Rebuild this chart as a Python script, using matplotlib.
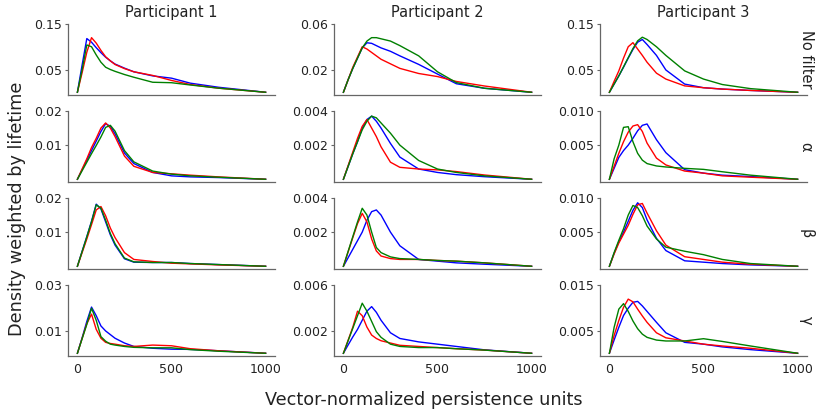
# small multiples: density weighted by lifetime, per participant and filter band
import matplotlib
matplotlib.use('Agg')
import matplotlib.pyplot as plt

x = [0, 25, 50, 75, 100, 125, 150, 175, 200, 250, 300, 400, 500, 600, 750, 1000]

participants = ['Participant 1', 'Participant 2', 'Participant 3']
filters = ['No filter', 'α', 'β', 'γ']

# y ticks shown on each panel (top tick is also the top of the axis)
yticks = [
    [[0.05, 0.15], [0.02, 0.06], [0.05, 0.15]],
    [[0.01, 0.02], [0.002, 0.004], [0.005, 0.010]],
    [[0.01, 0.02], [0.002, 0.004], [0.005, 0.010]],
    [[0.01, 0.03], [0.002, 0.006], [0.005, 0.015]],
]
yticklabels = [
    [['0.05', '0.15'], ['0.02', '0.06'], ['0.05', '0.15']],
    [['0.01', '0.02'], ['0.002', '0.004'], ['0.005', '0.010']],
    [['0.01', '0.02'], ['0.002', '0.004'], ['0.005', '0.010']],
    [['0.01', '0.03'], ['0.002', '0.006'], ['0.005', '0.015']],
]

# --- No filter ---
p1_none_red = [0, 0.043, 0.088, 0.120, 0.108, 0.092, 0.078, 0.069, 0.061, 0.052, 0.045, 0.037, 0.026, 0.017, 0.009, 0]
p1_none_blue = [0, 0.060, 0.118, 0.110, 0.098, 0.087, 0.077, 0.069, 0.062, 0.053, 0.045, 0.036, 0.031, 0.020, 0.011, 0]
p1_none_green = [0, 0.050, 0.104, 0.100, 0.082, 0.066, 0.055, 0.050, 0.046, 0.039, 0.033, 0.022, 0.021, 0.016, 0.009, 0]

p2_none_red = [0, 0.011, 0.022, 0.031, 0.040, 0.038, 0.035, 0.032, 0.029, 0.025, 0.021, 0.0165, 0.0138, 0.0095, 0.0055, 0]
p2_none_blue = [0, 0.011, 0.021, 0.030, 0.039, 0.0435, 0.043, 0.041, 0.039, 0.036, 0.032, 0.0245, 0.016, 0.0075, 0.0035, 0]
p2_none_green = [0, 0.011, 0.021, 0.030, 0.039, 0.045, 0.048, 0.048, 0.047, 0.045, 0.041, 0.032, 0.018, 0.0085, 0.0035, 0]

p3_none_red = [0, 0.024, 0.047, 0.075, 0.100, 0.109, 0.095, 0.081, 0.066, 0.042, 0.029, 0.014, 0.010, 0.007, 0.004, 0]
p3_none_blue = [0, 0.018, 0.036, 0.055, 0.075, 0.094, 0.110, 0.116, 0.105, 0.081, 0.049, 0.018, 0.010, 0.007, 0.004, 0]
p3_none_green = [0, 0.018, 0.036, 0.056, 0.076, 0.096, 0.113, 0.121, 0.116, 0.100, 0.081, 0.047, 0.029, 0.017, 0.008, 0]

# --- alpha ---
p1_alpha_red = [0, 0.003, 0.006, 0.0093, 0.0120, 0.0150, 0.0165, 0.0150, 0.0125, 0.0068, 0.0038, 0.0020, 0.0016, 0.0012, 0.0007, 0]
p1_alpha_blue = [0, 0.0028, 0.0056, 0.0084, 0.0112, 0.0140, 0.0163, 0.0155, 0.0133, 0.0077, 0.0046, 0.0020, 0.0010, 0.0007, 0.0005, 0]
p1_alpha_green = [0, 0.0025, 0.0050, 0.0075, 0.0099, 0.0124, 0.0152, 0.0158, 0.0141, 0.0084, 0.0051, 0.0024, 0.0015, 0.0010, 0.0006, 0]

p2_alpha_red = [0, 0.0008, 0.0016, 0.0024, 0.0031, 0.0035, 0.0030, 0.0025, 0.0019, 0.0010, 0.0007, 0.0006, 0.00055, 0.00045, 0.00025, 0]
p2_alpha_blue = [0, 0.00075, 0.0015, 0.0022, 0.0030, 0.0035, 0.0037, 0.0034, 0.0030, 0.0021, 0.0013, 0.0006, 0.0004, 0.00027, 0.00015, 0]
p2_alpha_green = [0, 0.00075, 0.0015, 0.0022, 0.0029, 0.0034, 0.0037, 0.0036, 0.0033, 0.0027, 0.0020, 0.0011, 0.0006, 0.0004, 0.0002, 0]

p3_alpha_red = [0, 0.0019, 0.0038, 0.0055, 0.0069, 0.0078, 0.0080, 0.0070, 0.0053, 0.0031, 0.0021, 0.0012, 0.0009, 0.0005, 0.0003, 0]
p3_alpha_blue = [0, 0.0016, 0.0032, 0.0042, 0.0050, 0.0060, 0.0071, 0.0079, 0.0081, 0.0058, 0.0039, 0.0014, 0.0009, 0.0006, 0.0004, 0]
p3_alpha_green = [0, 0.0030, 0.0050, 0.0076, 0.0077, 0.0055, 0.0038, 0.0028, 0.0023, 0.00195, 0.0018, 0.0016, 0.00145, 0.0011, 0.0006, 0]

# --- beta ---
p1_beta_red = [0, 0.0040, 0.0080, 0.0122, 0.0165, 0.0175, 0.0148, 0.0112, 0.0084, 0.0040, 0.0020, 0.0014, 0.0009, 0.0007, 0.0004, 0]
p1_beta_blue = [0, 0.0044, 0.0087, 0.0132, 0.0182, 0.0168, 0.0130, 0.0092, 0.0062, 0.0022, 0.0012, 0.0011, 0.0011, 0.0008, 0.0005, 0]
p1_beta_green = [0, 0.0043, 0.0086, 0.0130, 0.0180, 0.0170, 0.0135, 0.0096, 0.0066, 0.0024, 0.0013, 0.0011, 0.0011, 0.0008, 0.0005, 0]

p2_beta_red = [0, 0.00084, 0.00168, 0.0025, 0.0031, 0.0026, 0.0016, 0.0009, 0.0006, 0.00045, 0.0004, 0.0004, 0.00034, 0.0003, 0.0002, 0]
p2_beta_blue = [0, 0.0005, 0.0010, 0.0015, 0.0020, 0.0027, 0.0032, 0.0033, 0.0030, 0.0020, 0.0012, 0.0004, 0.0003, 0.0002, 0.00012, 0]
p2_beta_green = [0, 0.00087, 0.00174, 0.0026, 0.0034, 0.0030, 0.0020, 0.0011, 0.0008, 0.00055, 0.00045, 0.0004, 0.00034, 0.0003, 0.0002, 0]

p3_beta_red = [0, 0.0018, 0.0034, 0.0047, 0.0060, 0.0076, 0.0090, 0.0092, 0.0078, 0.0052, 0.0031, 0.0014, 0.0010, 0.0006, 0.0003, 0]
p3_beta_blue = [0, 0.0019, 0.0036, 0.0050, 0.0066, 0.0082, 0.0093, 0.0086, 0.0068, 0.0041, 0.0023, 0.0008, 0.0006, 0.0004, 0.0002, 0]
p3_beta_green = [0, 0.0020, 0.0038, 0.0055, 0.0075, 0.0089, 0.0086, 0.0074, 0.0059, 0.0040, 0.0028, 0.0022, 0.0017, 0.0010, 0.0004, 0]

# --- gamma ---
p1_gamma_red = [0, 0.0065, 0.0130, 0.0172, 0.0105, 0.0066, 0.0048, 0.0043, 0.0040, 0.0033, 0.0030, 0.0036, 0.0033, 0.0020, 0.0011, 0]
p1_gamma_blue = [0, 0.0068, 0.0140, 0.0203, 0.0165, 0.0120, 0.0098, 0.0082, 0.0066, 0.0045, 0.0030, 0.0022, 0.0018, 0.0017, 0.0011, 0]
p1_gamma_green = [0, 0.0064, 0.0127, 0.0198, 0.0145, 0.0073, 0.0053, 0.0040, 0.0036, 0.0030, 0.0026, 0.0024, 0.0024, 0.0016, 0.0009, 0]

p2_gamma_red = [0, 0.00115, 0.0023, 0.0037, 0.0033, 0.0023, 0.0016, 0.0013, 0.0011, 0.0009, 0.0007, 0.0006, 0.0005, 0.0004, 0.00028, 0]
p2_gamma_blue = [0, 0.00073, 0.00144, 0.0021, 0.0029, 0.0037, 0.0041, 0.0036, 0.0029, 0.0018, 0.0013, 0.0010, 0.0008, 0.0006, 0.0003, 0]
p2_gamma_green = [0, 0.0011, 0.0022, 0.0033, 0.0044, 0.0037, 0.0028, 0.0019, 0.0014, 0.0008, 0.0006, 0.0005, 0.0005, 0.0004, 0.00028, 0]

p3_gamma_red = [0, 0.0039, 0.0072, 0.0101, 0.0119, 0.0113, 0.0097, 0.0082, 0.0068, 0.0045, 0.0034, 0.0027, 0.0020, 0.0016, 0.0011, 0]
p3_gamma_blue = [0, 0.0029, 0.0057, 0.0083, 0.0099, 0.0112, 0.0114, 0.0104, 0.0092, 0.0068, 0.0045, 0.0024, 0.0020, 0.0014, 0.0008, 0]
p3_gamma_green = [0, 0.0057, 0.0097, 0.0109, 0.0092, 0.0071, 0.0054, 0.0042, 0.0035, 0.0029, 0.0027, 0.0027, 0.0032, 0.0026, 0.0016, 0]

series = [
    [(p1_none_red, p1_none_blue, p1_none_green), (p2_none_red, p2_none_blue, p2_none_green), (p3_none_red, p3_none_blue, p3_none_green)],
    [(p1_alpha_red, p1_alpha_blue, p1_alpha_green), (p2_alpha_red, p2_alpha_blue, p2_alpha_green), (p3_alpha_red, p3_alpha_blue, p3_alpha_green)],
    [(p1_beta_red, p1_beta_blue, p1_beta_green), (p2_beta_red, p2_beta_blue, p2_beta_green), (p3_beta_red, p3_beta_blue, p3_beta_green)],
    [(p1_gamma_red, p1_gamma_blue, p1_gamma_green), (p2_gamma_red, p2_gamma_blue, p2_gamma_green), (p3_gamma_red, p3_gamma_blue, p3_gamma_green)],
]

text_col = '#222222'
spine_col = '#666666'

fig = plt.figure(figsize=(8.16, 4.09), dpi=100)
W, H = 816.0, 409.0
col_left = [68, 334, 600]
row_top = [24, 111, 198, 285]
ax_w, ax_h = 207, 71

for r in range(4):
    for c in range(3):
        ax = fig.add_axes([col_left[c] / W, 1 - (row_top[r] + ax_h) / H, ax_w / W, ax_h / H])
        red, blue, green = series[r][c]
        ax.plot(x, blue, color='blue', lw=1.0)
        ax.plot(x, red, color='red', lw=1.0)
        ax.plot(x, green, color='green', lw=1.0)
        top = yticks[r][c][-1]
        ax.set_ylim(-0.04 * top, top)
        ax.set_xlim(-50, 1050)
        ax.set_yticks(yticks[r][c])
        ax.set_yticklabels(yticklabels[r][c])
        ax.spines['top'].set_visible(False)
        ax.spines['right'].set_visible(False)
        for s in ('left', 'bottom'):
            ax.spines[s].set_color(spine_col)
            ax.spines[s].set_linewidth(0.9)
        ax.tick_params(axis='y', length=2.5, width=0.8, color=spine_col, labelsize=9, labelcolor=text_col, pad=2)
        if r == 3:
            ax.set_xticks([0, 500, 1000])
            ax.tick_params(axis='x', length=0, pad=5, labelsize=9, labelcolor=text_col)
        else:
            ax.set_xticks([])
        if r == 0:
            ax.set_title(participants[c], fontsize=10.5, color=text_col, pad=5)
        if c == 2:
            fig.text(806 / W, 1 - (row_top[r] + ax_h / 2) / H, filters[r], rotation=270,
                     ha='center', va='center', fontsize=10.5, color=text_col)

fig.text(17 / W, 0.49, 'Density weighted by lifetime', rotation=90, ha='center', va='center',
         fontsize=12.7, color=text_col)
fig.text(424 / W, 1 - 400 / H, 'Vector-normalized persistence units', ha='center', va='center',
         fontsize=12.7, color=text_col)

fig.savefig('out.png', dpi=100)
